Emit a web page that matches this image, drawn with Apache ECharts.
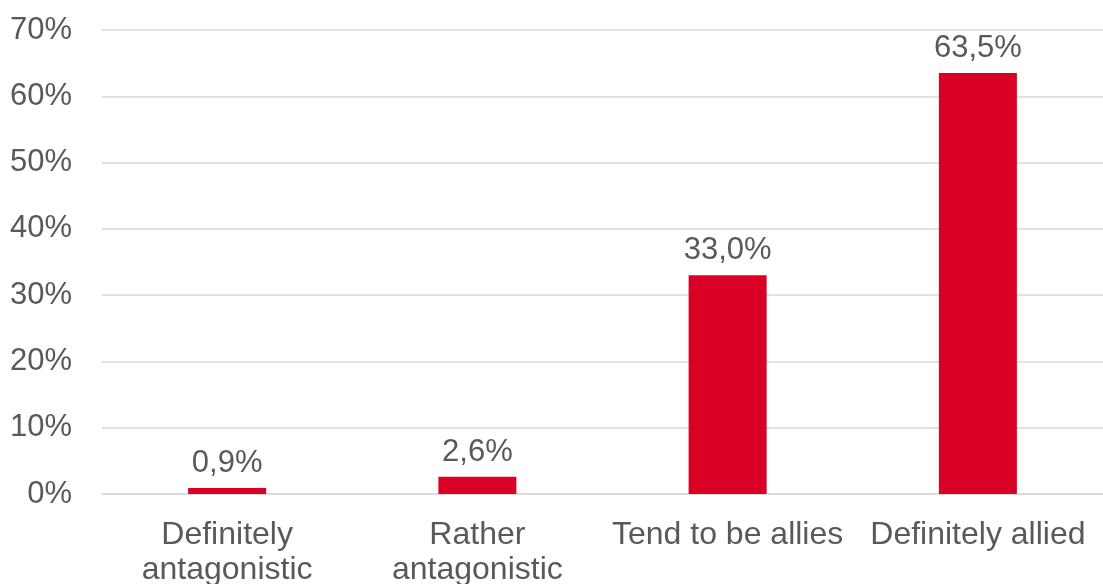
<!DOCTYPE html>
<html>
<head>
<meta charset="utf-8">
<script src="https://cdn.jsdelivr.net/npm/echarts@6/dist/echarts.min.js"></script>
<style>
html,body{margin:0;padding:0;background:#fff;}
#chart{width:1103px;height:584px;}
</style>
</head>
<body>
<div id="chart"></div>
<script>
const categories = ['Definitely\nantagonistic', 'Rather\nantagonistic', 'Tend to be allies', 'Definitely allied'];
const values = [0.9, 2.6, 33.0, 63.5];
const yTicks = { min: 0, max: 70, interval: 10 };

const chart = echarts.init(document.getElementById('chart'));
const textColor = '#595959';
const font = '"Liberation Sans", Arial, sans-serif';
chart.setOption({
  animation: false,
  grid: { left: 102, right: 0, top: 30, bottom: 90, containLabel: false, outerBoundsMode: 'none' },
  xAxis: {
    type: 'category',
    data: categories,
    axisLine: { show: true, lineStyle: { color: '#d9d9d9', width: 1.5 } },
    axisTick: { show: false },
    axisLabel: { color: textColor, fontSize: 32, fontFamily: font, margin: 24, lineHeight: 35, interval: 0 }
  },
  yAxis: {
    type: 'value',
    min: yTicks.min, max: yTicks.max, interval: yTicks.interval,
    axisLine: { show: false },
    axisTick: { show: false },
    splitLine: { lineStyle: { color: '#d9d9d9', width: 1.5 } },
    axisLabel: { color: textColor, fontSize: 31, fontFamily: font, margin: 30, formatter: '{value}%' }
  },
  series: [{
    type: 'bar',
    data: values,
    barWidth: 78,
    itemStyle: { color: '#DA0025' },
    label: {
      show: true, position: 'top', distance: 9,
      color: textColor, fontSize: 31, fontFamily: font,
      formatter: p => p.value.toFixed(1).replace('.', ',') + '%'
    }
  }]
});
</script>
</body>
</html>
